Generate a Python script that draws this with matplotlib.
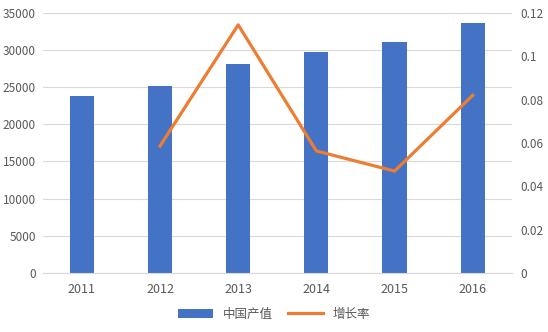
import matplotlib
matplotlib.use("Agg")
import matplotlib.pyplot as plt
import numpy as np
from matplotlib.ticker import FuncFormatter

plt.rcParams['font.family'] = ['Noto Sans CJK SC', 'DejaVu Sans']

years = ["2011", "2012", "2013", "2014", "2015", "2016"]
output_values = [23800, 25200, 28100, 29750, 31100, 33650]
growth_years = ["2012", "2013", "2014", "2015", "2016"]
growth_rates = [0.0586, 0.1145, 0.0563, 0.047, 0.082]

bar_color = "#4472C4"
line_color = "#ED7D31"
text_color = "#595959"
grid_color = "#D9D9D9"

fig = plt.figure(figsize=(5.48, 3.32), dpi=100)
ax = fig.add_axes([0.078, 0.178, 0.856, 0.783])
x = np.arange(len(years))
bars = ax.bar(x, output_values, width=0.31, color=bar_color, label="中国产值", zorder=2)
ax.set_xlim(-0.5, len(years) - 0.5)
ax.set_ylim(0, 35000)
ax.set_yticks(np.arange(0, 35001, 5000))
ax.set_xticks(x)
ax.set_xticklabels(years)
ax.grid(axis="y", color=grid_color, linewidth=0.8, zorder=0)
ax.set_axisbelow(True)
for s in ax.spines.values():
    s.set_visible(False)
ax.spines["bottom"].set_visible(True)
ax.spines["bottom"].set_color(grid_color)
ax.tick_params(axis="y", length=0, labelsize=8.5, colors=text_color, pad=5)
ax.tick_params(axis="x", length=0, labelsize=9, colors=text_color, pad=7)

ax2 = ax.twinx()
gx = [years.index(y) for y in growth_years]
line, = ax2.plot(gx, growth_rates, color=line_color, linewidth=2.3, label="增长率", zorder=3)
ax2.set_ylim(0, 0.12)
ax2.set_yticks(np.arange(0, 0.1201, 0.02))
ax2.yaxis.set_major_formatter(FuncFormatter(lambda v, p: f"{round(v, 2):g}"))
for s in ax2.spines.values():
    s.set_visible(False)
ax2.tick_params(length=0, labelsize=8.5, colors=text_color, pad=6)

fig.legend([bars, line], ["中国产值", "增长率"], loc="lower center",
           bbox_to_anchor=(0.5, 0.0), ncol=2, frameon=False,
           fontsize=9, labelcolor=text_color, handlelength=2.8, columnspacing=1.2)

fig.savefig("out.png", dpi=100)
